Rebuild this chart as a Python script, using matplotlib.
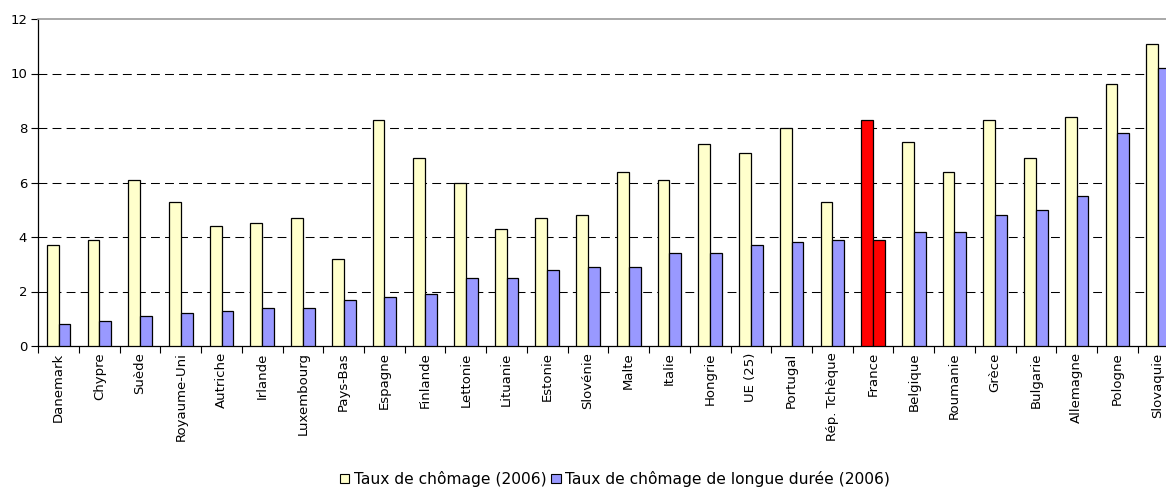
import matplotlib
matplotlib.use("Agg")
import matplotlib.pyplot as plt
import numpy as np
from matplotlib.patches import Patch

categories = ["Danemark", "Chypre", "Suède", "Royaume-Uni", "Autriche", "Irlande",
              "Luxembourg", "Pays-Bas", "Espagne", "Finlande", "Lettonie", "Lituanie",
              "Estonie", "Slovénie", "Malte", "Italie", "Hongrie", "UE (25)", "Portugal",
              "Rép. Tchèque", "France", "Belgique", "Roumanie", "Grèce", "Bulgarie",
              "Allemagne", "Pologne", "Slovaquie"]
chomage = [3.7, 3.9, 6.1, 5.3, 4.4, 4.5, 4.7, 3.2, 8.3, 6.9, 6.0, 4.3, 4.7, 4.8,
           6.4, 6.1, 7.4, 7.1, 8.0, 5.3, 8.3, 7.5, 6.4, 8.3, 6.9, 8.4, 9.6, 11.1]
longue_duree = [0.8, 0.9, 1.1, 1.2, 1.3, 1.4, 1.4, 1.7, 1.8, 1.9, 2.5, 2.5, 2.8, 2.9,
                2.9, 3.4, 3.4, 3.7, 3.8, 3.9, 3.9, 4.2, 4.2, 4.8, 5.0, 5.5, 7.8, 10.2]
highlight = "France"
yticks = [0, 2, 4, 6, 8, 10, 12]
legend_labels = ["Taux de chômage (2006)", "Taux de chômage de longue durée (2006)"]

plt.rcParams['font.family'] = ['DejaVu Sans']

W, H = 1166, 491
fig = plt.figure(figsize=(W / 100, H / 100), dpi=100)
ax = fig.add_axes([38.3 / W, (H - 346) / H, 28 * 40.72 / W, (346 - 19) / H])

n = len(categories)
x = np.arange(n)
bw = 0.29
yellow = "#FFFFCC"
blue = "#9999FF"
red = "#FF0000"
c1 = [red if c == highlight else yellow for c in categories]
c2 = [red if c == highlight else blue for c in categories]

ax.bar(x - bw / 2, chomage, width=bw, color=c1, edgecolor="black", linewidth=0.9, zorder=3)
ax.bar(x + bw / 2, longue_duree, width=bw, color=c2, edgecolor="black", linewidth=0.9, zorder=3)

ax.set_xlim(-0.5, n - 0.5)
ax.set_ylim(0, 12)
ax.set_yticks(yticks)
ax.tick_params(axis="y", direction="out", length=5, width=0.8, labelsize=9.5, pad=3)

ax.set_xticks(x)
ax.set_xticklabels(categories, rotation=90, fontsize=9.5, va="top", ha="center")
ax.tick_params(axis="x", which="major", length=0, pad=4.5)
ax.set_xticks(np.arange(n + 1) - 0.5, minor=True)
ax.tick_params(axis="x", which="minor", direction="out", length=5, width=0.8)

for yv in yticks[1:-1]:
    ax.axhline(yv, color="black", linewidth=0.75, linestyle=(0, (8.5, 5)), zorder=1)

for s in ["left", "bottom"]:
    ax.spines[s].set_color("black")
    ax.spines[s].set_linewidth(0.9)
ax.spines["top"].set_color("#999999")
ax.spines["top"].set_linewidth(1.2)
ax.spines["right"].set_visible(False)

handles = [Patch(facecolor=yellow, edgecolor="black", linewidth=0.8),
           Patch(facecolor=blue, edgecolor="black", linewidth=0.8)]
fig.legend(handles, legend_labels, loc="center", bbox_to_anchor=(615 / W, 1 - 479 / H),
           ncol=2, frameon=False, fontsize=11.2, handlelength=0.6, handleheight=0.6,
           handletextpad=0.3, columnspacing=0.3, borderpad=0)

fig.savefig("out.png", dpi=100)
